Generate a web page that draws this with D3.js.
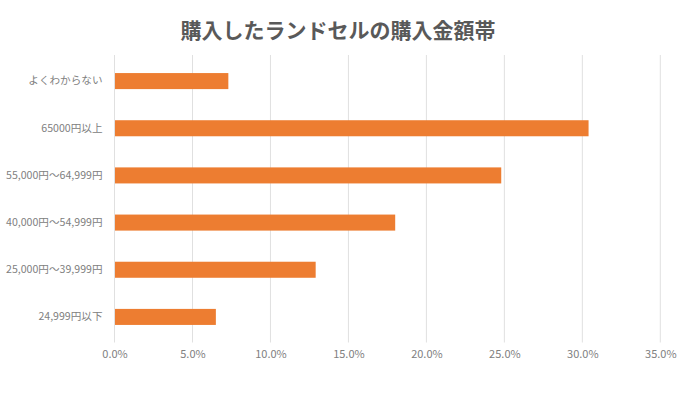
<!DOCTYPE html>
<html><head><meta charset="utf-8">
<script src="https://cdn.jsdelivr.net/npm/d3@7"></script>
<style>body{margin:0;background:#fff}svg{display:block}</style>
</head><body>
<script>
const categories = ["よくわからない","65000円以上","55,000円～64,999円","40,000円～54,999円","25,000円～39,999円","24,999円以下"];
const values = [7.3, 30.4, 24.8, 18.0, 12.9, 6.5];
const xTicks = [0,5,10,15,20,25,30,35];
const title = "購入したランドセルの購入金額帯";

const W = 700, H = 393;
const m = {left:114.5, right:40, top:57.5, bottom:52.5};
const font = "'Noto Sans CJK JP', 'Noto Sans', sans-serif";
const svg = d3.select("body").append("svg").attr("width",W).attr("height",H);
svg.append("rect").attr("width",W).attr("height",H).attr("fill","#fff");

const x = d3.scaleLinear().domain([0,35]).range([m.left, 660.3]);
const y = d3.scaleBand().domain(categories).range([m.top, H-m.bottom]).paddingInner(0.66).paddingOuter(0.33);

// gridlines
svg.append("g").selectAll("line").data(xTicks.slice(1)).join("line")
  .attr("x1",d=>x(d)).attr("x2",d=>x(d)).attr("y1",55).attr("y2",H-m.bottom+2)
  .attr("stroke","#e0e0e0").attr("stroke-width",1);

// bars
svg.append("g").selectAll("rect").data(values).join("rect")
  .attr("x",x(0)).attr("y",(d,i)=>y(categories[i]))
  .attr("width",d=>x(d)-x(0)).attr("height",y.bandwidth())
  .attr("fill","#ed7d31");

// y axis line
svg.append("line").attr("x1",x(0)).attr("x2",x(0)).attr("y1",55).attr("y2",H-m.bottom+2)
  .attr("stroke","#e0e0e0");

// x axis labels
const xa = d3.axisBottom(x).tickValues(xTicks).tickSize(0).tickFormat(d=>d.toFixed(1)+"%");
const gx = svg.append("g").attr("transform",`translate(0,${H-m.bottom+5})`).call(xa);
gx.select(".domain").remove();
gx.selectAll("text").attr("fill","#808080").attr("font-size","11px").attr("font-family",font).attr("dy","0.9em");

// y axis labels
const ya = d3.axisLeft(y).tickSize(0).tickPadding(12);
const gy = svg.append("g").attr("transform",`translate(${x(0)},0)`).call(ya);
gy.select(".domain").remove();
gy.selectAll("text").attr("fill","#808080").attr("font-size","10.6px").attr("font-family",font);

// title
svg.append("text").attr("x",338).attr("y",38).attr("text-anchor","middle")
  .attr("font-size","21px").attr("font-weight","bold").attr("fill","#595959").attr("font-family",font)
  .text(title);
</script>
</body></html>
